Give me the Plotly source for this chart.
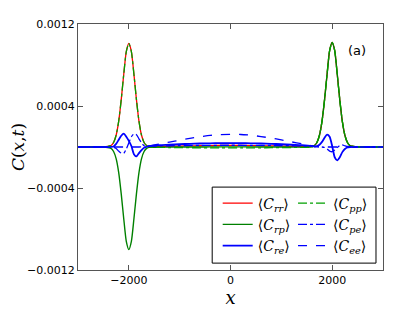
import plotly.graph_objects as go

# x positions
x = [-3000, -2800, -2600, -2450, -2350, -2300, -2250, -2200, -2150, -2100, -2050, -2000,
     -1950, -1900, -1850, -1800, -1750, -1700, -1650, -1600,
     -1400, -1200, -1000, -800, -600, -400, -200, 0, 200, 400, 600, 800, 1000, 1200, 1400, 1600,
     1650, 1700, 1750, 1800, 1850, 1900, 1950, 2000, 2050, 2100, 2150, 2200, 2250, 2300, 2350,
     2450, 2600, 2800, 3000]

# series values in units of 1e-6
c_rr = [0, 0, 0, 3, 14, 44, 115, 250, 460, 710, 930, 1010, 930, 710, 460, 250, 115, 44, 14, 5,
        5, 7, 9, 11, 12, 14, 15, 15, 15, 14, 12, 11, 9, 7, 5, 5,
        14, 44, 115, 250, 460, 710, 940, 1020, 940, 710, 460, 250, 115, 44, 14, 3, 0, 0, 0]
c_rp = [0, 0, 0, -3, -14, -44, -114, -248, -455, -700, -920, -1000, -920, -700, -455, -248, -114, -44, -14, -4,
        -2, -1, 0, 0, 0, 1, 1, 1, 1, 1, 0, 0, 0, -1, -1, 2,
        14, 44, 115, 250, 460, 710, 940, 1020, 940, 710, 460, 250, 115, 44, 14, 3, 0, 0, 0]
c_re = [0, 0, 0, 0, 1, 5, 30, 70, 110, 130, 100, 60, 10, -70, -92, -60, -30, -8, 2, 10,
        18, 22, 27, 31, 34, 36, 38, 38, 38, 36, 34, 31, 27, 22, 18, 10,
        5, 8, 22, 50, 90, 120, 100, 10, -100, -130, -100, -50, -20, -5, 0, 0, 0, 0, 0]
c_pp = [0, 0, 0, 3, 14, 44, 115, 250, 460, 710, 930, 1010, 930, 710, 460, 250, 115, 44, 14, 2,
        -3, -5, -6, -7, -8, -8, -9, -9, -9, -8, -8, -7, -6, -5, -3, -2,
        14, 44, 115, 250, 460, 710, 940, 1020, 940, 710, 460, 250, 115, 44, 14, 3, 0, 0, 0]
c_pe = [0, 0, 0, 0, -1, -3, -15, -40, -60, -62, -20, 40, 100, 128, 120, 80, 40, 12, 5, 8,
        10, 12, 14, 15, 16, 16, 17, 17, 17, 16, 16, 15, 14, 12, 10, 8,
        5, 3, 1, 0, -5, -20, -40, -46, -30, -5, 15, 20, 12, 5, 1, 0, 0, 0, 0]
c_ee = [0, 0, 0, 0, 0, 0, 0, 0, 0, 0, 0, 0, 0, 0, 0, 0, 1, 3, 5, 8,
        30, 48, 66, 85, 100, 113, 121, 124, 122, 115, 102, 87, 70, 50, 32, 12,
        7, 3, 1, 0, 0, 0, 0, 0, 0, 0, 0, 0, 0, 0, 0, 0, 0, 0, 0]

y_ticks = [-0.0012, -0.0004, 0.0004, 0.0012]
y_ticktext = ["\u22120.0012", "\u22120.0004", "0.0004", "0.0012"]
x_ticks = [-2000, 0, 2000]
x_ticktext = ["\u22122000", "0", "2000"]

SCALE = 1e-6
series = [
    ("rr", c_rr, "#ff0000", "solid", 1.3, "legend"),
    ("rp", c_rp, "#008000", "solid", 1.4, "legend"),
    ("re", c_re, "#0000ff", "solid", 1.8, "legend"),
    ("pp", c_pp, "#00a000", "dashdot", 1.3, "legend2"),
    ("pe", c_pe, "#0000ff", "dashdot", 1.3, "legend2"),
    ("ee", c_ee, "#0000ff", "dash", 1.3, "legend2"),
]

fig = go.Figure()
for name, vals, col, dash, w, leg in series:
    fig.add_trace(go.Scatter(
        x=x, y=[v * SCALE for v in vals], mode="lines",
        line=dict(color=col, dash=dash, width=w, shape="spline", smoothing=0.6),
        name="\u27e8<i>C</i><sub><i>%s</i></sub>\u27e9" % name,
        legend=leg,
    ))

axis_common = dict(showline=True, linecolor="#555555", linewidth=1, mirror="ticks",
                   ticks="inside", ticklen=5, tickcolor="#555555", showgrid=False,
                   zeroline=False, automargin=False,
                   tickfont=dict(family="DejaVu Sans", size=11, color="black"))

# the page body adds an 8px offset, so the figure is 8px smaller and margins compensate
fig.update_layout(
    width=407, height=304,
    margin=dict(l=70, r=32, t=16, b=42, autoexpand=False),
    paper_bgcolor="white", plot_bgcolor="white",
    showlegend=True,
    xaxis=dict(range=[-3000, 3000], tickvals=x_ticks, ticktext=x_ticktext,
               title=dict(text="<i>x</i>", font=dict(family="DejaVu Serif", size=18, color="black"),
                          standoff=0),
               **axis_common),
    yaxis=dict(range=[-0.0012, 0.0012], tickvals=y_ticks, ticktext=y_ticktext,
               title=dict(text="<i>C</i>(<i>x</i>,<i>t</i>)",
                          font=dict(family="DejaVu Serif", size=17, color="black"), standoff=0),
               **axis_common),
    legend=dict(x=0.458, y=0.335, xanchor="left", yanchor="top", bgcolor="rgba(0,0,0,0)",
                borderwidth=0, font=dict(family="DejaVu Serif", size=14, color="black"),
                itemwidth=30),
    legend2=dict(x=0.705, y=0.335, xanchor="left", yanchor="top", bgcolor="rgba(0,0,0,0)",
                 borderwidth=0, font=dict(family="DejaVu Serif", size=14, color="black"),
                 itemwidth=30),
    shapes=[dict(type="rect", xref="paper", yref="paper", x0=0.44, x1=0.977, y0=0.028, y1=0.337,
                 line=dict(color="black", width=1), fillcolor="white", layer="above")],
    annotations=[dict(text="(a)", xref="paper", yref="paper", x=0.915, y=0.894,
                      xanchor="center", yanchor="middle",
                      showarrow=False, font=dict(family="DejaVu Sans", size=13, color="black"))],
)

fig.write_html("out.html")
